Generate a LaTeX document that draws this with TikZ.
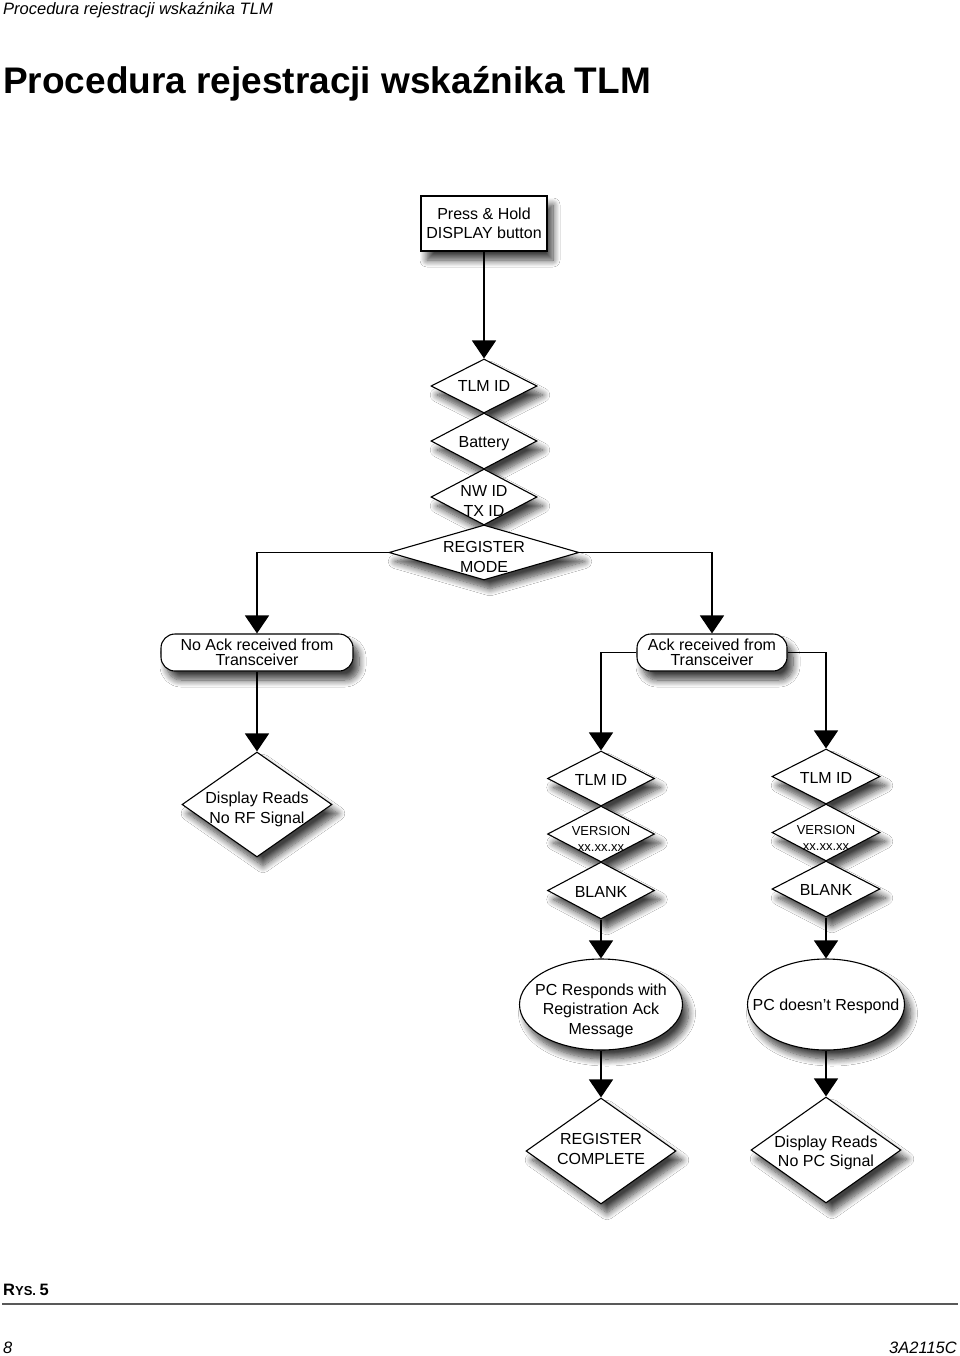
\documentclass[tikz,border=0pt]{standalone}
\usepackage{fontspec}
\setmainfont{Liberation Sans}
\usetikzlibrary{shapes.geometric,arrows.meta,shadows.blur}
\begin{document}
\begin{tikzpicture}[x=1pt,y=-1pt,
  conn/.style={line width=1.5pt,-{Triangle[width=24pt,length=18pt]}},
  shad/.style={blur shadow={shadow xshift=6pt,shadow yshift=-9pt,shadow blur radius=7pt,shadow blur steps=10,shadow opacity=75}},
  shp/.style={draw,line width=1.1pt,fill=white,inner sep=0pt,shad},
  dia/.style={shp,diamond},
  lbl/.style={font=\fontsize{16}{19.5}\selectfont,align=center,inner sep=0pt},
  slbl/.style={font=\fontsize{13}{16}\selectfont,align=center,inner sep=0pt},
  rbox/.style={shp,rectangle,rounded corners=14pt,minimum height=37pt,align=center,font=\fontsize{16}{15.5}\selectfont},
  ell/.style={shp,ellipse},
]
\fill[white] (0,0) rectangle (960,1356);
\useasboundingbox (0,0) rectangle (960,1356);

% header and title
\node[anchor=base west,inner sep=0pt,font=\fontsize{16.5}{18}\selectfont\itshape] (hdr) at (3,15) {Procedura rejestracji wskaźnika TLM};
\node[anchor=base west,inner sep=0pt,font=\fontsize{37}{40}\selectfont\bfseries] (title) at (3,94) {Procedura rejestracji wskaźnika TLM};

% top box
\node[shp,rectangle,minimum width=126pt,minimum height=55pt,align=center,font=\fontsize{16}{19.5}\selectfont] (start) at (484,223.5) {Press \& Hold\\DISPLAY button};

% top diamond stack
\node[dia,minimum width=106pt,minimum height=54pt] (t1) at (484,386) {};
\node[dia,minimum width=106pt,minimum height=56pt] (t2) at (484,441) {};
\node[dia,minimum width=106pt,minimum height=56pt] (t3) at (484,497) {};
\node[dia,minimum width=190pt,minimum height=55pt] (rm) at (484,552.5) {};
\node[lbl] (t1t) at (t1) {TLM ID};
\node[lbl] (t2t) at ([yshift=-3pt]t2.center) {Battery};
\node[lbl] (t3t) at ([yshift=-4pt]t3.center) {NW ID\\TX ID};
\node[lbl] (rmt) at ([yshift=-4.5pt]rm.center) {REGISTER\\MODE};

% rounded boxes
\node[rbox,minimum width=192pt] (noack) at (257,652.5) {No Ack received from\\Transceiver};
\node[rbox,minimum width=150pt] (ack) at (712,652.5) {Ack received from\\Transceiver};

% no RF diamond
\node[dia,minimum width=150pt,minimum height=105pt] (norf) at (257,804.5) {};
\node[lbl] (norft) at ([yshift=-5pt]norf.center) {Display Reads\\No RF Signal};

% left stack
\node[dia,minimum width=107pt,minimum height=55pt] (l1) at (601,778.5) {};
\node[dia,minimum width=107pt,minimum height=56pt] (l2) at (601,834) {};
\node[dia,minimum width=107pt,minimum height=57pt] (l3) at (601,890.5) {};
\node[lbl] (l1t) at ([yshift=-1pt]l1.center) {TLM ID};
\node[slbl] (l2t) at ([yshift=-5pt]l2.center) {VERSION\\xx.xx.xx};
\node[lbl] (l3t) at ([yshift=-1pt]l3.center) {BLANK};

% right stack
\node[dia,minimum width=108pt,minimum height=55pt] (r1) at (826,776.5) {};
\node[dia,minimum width=108pt,minimum height=57pt] (r2) at (826,832.5) {};
\node[dia,minimum width=108pt,minimum height=56pt] (r3) at (826,889) {};
\node[lbl] (r1t) at ([yshift=-1pt]r1.center) {TLM ID};
\node[slbl] (r2t) at ([yshift=-5pt]r2.center) {VERSION\\xx.xx.xx};
\node[lbl] (r3t) at ([yshift=-1pt]r3.center) {BLANK};

% ellipses
\node[ell,minimum width=163pt,minimum height=91pt] (e1) at (601,1004.5) {};
\node[ell,minimum width=157pt,minimum height=91pt] (e2) at (826,1004.5) {};
\node[lbl] (e1t) at ([yshift=-6pt]e1.center) {PC Responds with\\Registration Ack\\Message};
\node[lbl] (e2t) at ([yshift=-2pt]e2.center) {PC doesn’t Respond};

% final diamonds
\node[dia,minimum width=150pt,minimum height=106pt] (rc) at (601,1151) {};
\node[dia,minimum width=150pt,minimum height=106pt] (nopc) at (826,1150) {};
\node[lbl] (rct) at ([yshift=2pt]rc.center) {REGISTER\\COMPLETE};
\node[lbl] (nopct) at ([yshift=-3pt]nopc.center) {Display Reads\\No PC Signal};

% connectors
\draw[conn] (start.south) -- (t1.north);
\draw[conn] (rm.west) -| (noack.north);
\draw[conn] (rm.east) -| (ack.north);
\draw[conn] (noack.south) -- (norf.north);
\draw[conn] (ack.west) -| (l1.north);
\draw[conn] (ack.east) -| (r1.north);
\draw[conn] (l3.south) -- (e1.north);
\draw[conn] (r3.south) -- (e2.north);
\draw[conn] (e1.south) -- (rc.north);
\draw[conn] (e2.south) -- (nopc.north);

% footer
\node[anchor=base west,inner sep=0pt,font=\bfseries] (rys) at (3,1295) {\fontsize{16.5}{18}\selectfont R\fontsize{13}{15}\selectfont YS. \fontsize{16.5}{18}\selectfont 5};
\coordinate (ruleL) at (2,1304);
\coordinate (ruleR) at (958,1304);
\draw[line width=2.5pt,black!65] (ruleL) -- (ruleR);
\node[anchor=base west,inner sep=0pt,font=\fontsize{16.5}{18}\selectfont\itshape] (pg) at (3,1353) {8};
\node[anchor=base east,inner sep=0pt,font=\fontsize{16.5}{18}\selectfont\itshape] (doc) at (957,1353) {3A2115C};
\end{tikzpicture}
\end{document}
